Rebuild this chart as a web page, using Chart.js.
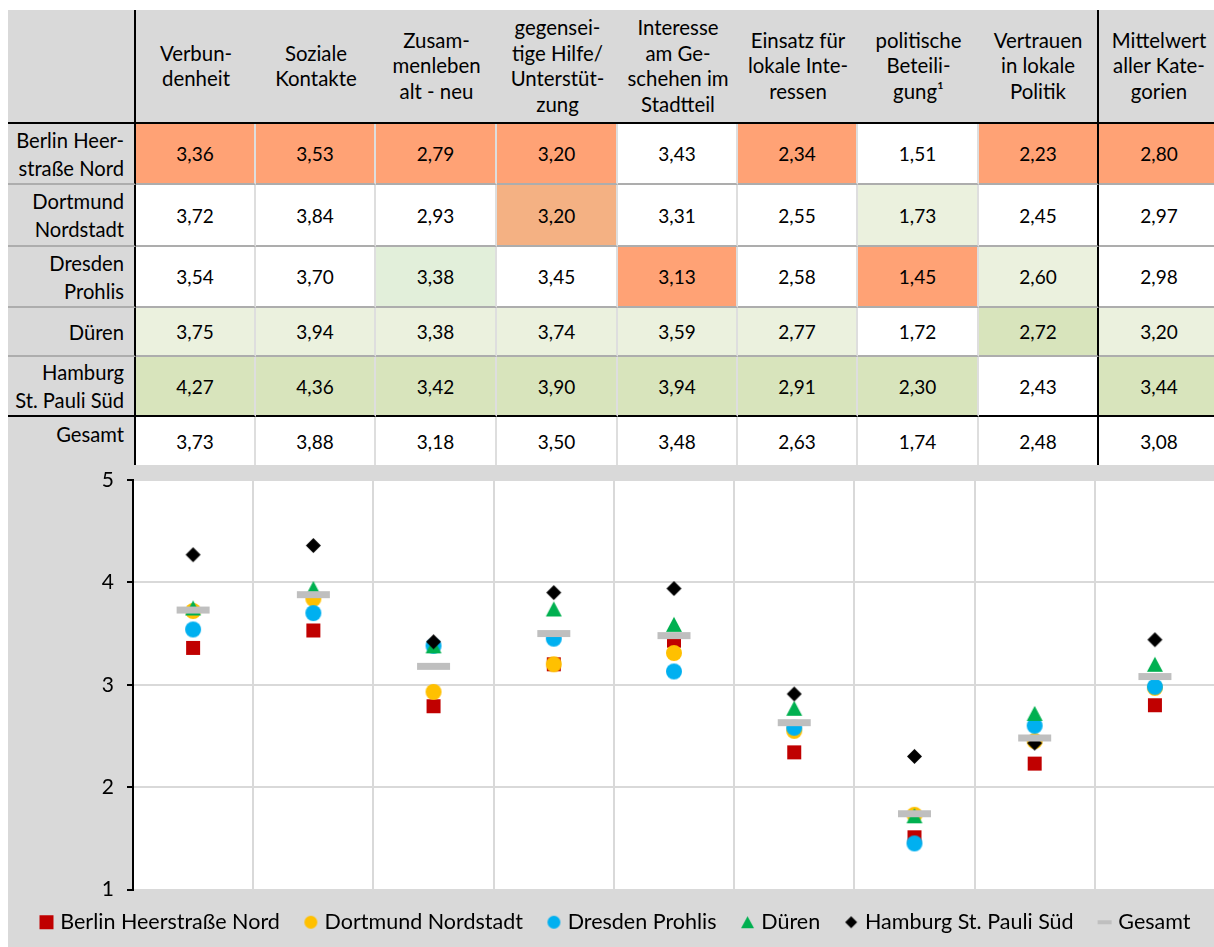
<!DOCTYPE html>
<html lang="de">
<head>
<meta charset="utf-8">
<script src="https://cdn.jsdelivr.net/npm/chart.js@4.4.0/dist/chart.umd.min.js"></script>
<style>
  html, body { margin: 0; padding: 0; background: #fff; overflow: hidden; }
  body { width: 1214px; height: 947px; position: relative; font-family: Lato, "Open Sans", sans-serif; color: #000; }
  #wrap { position: absolute; left: 8px; top: 10px; width: 1216px; height: 937px; background: #D9D9D9; overflow: hidden; }
  table { border-collapse: separate; border-spacing: 0; table-layout: fixed; width: 1211px; }
  th, td { box-sizing: border-box; padding: 0; border: 0; text-align: center; vertical-align: middle; font-weight: normal; }
  th { font-size: 20.4px; line-height: 25.5px; background: #D9D9D9; border-bottom: 2px solid #000; }
  td.lab { text-align: right; padding-right: 10px; font-size: 20.2px; line-height: 28px; background: #D9D9D9;
           border-right: 2px solid #000; border-bottom: 2px solid #ADADAD; }
  th.corner { border-right: 2px solid #000; }
  td.val { font-size: 19px; background: #fff; border-right: 2px solid #DEDEDE; border-bottom: 2px solid #ADADAD; }
  .sep { border-right: 2px solid #000 !important; }
  tr.last-region td { border-bottom: 2px solid #000 !important; }
  tr.total td { border-bottom: 0 !important; }
  tr.total td.lab { vertical-align: top; padding-top: 3px; }
  td.o { background: #FFA275; }
  td.p { background: #F4B183; }
  td.g { background: #E2EFDA; }
  td.l { background: #EBF1DE; }
  td.m { background: #D8E4BC; }
  #chart { position: absolute; left: 0; top: 455px; }
</style>
</head>
<body>
<div id="wrap">
  <table id="tab"></table>
  <canvas id="chart" width="1216" height="482"></canvas>
</div>
<script>
// Kategorien (Spaltenköpfe, mit Trennungen wie im Original)
const categories = [
  ["Verbun-", "denheit"],
  ["Soziale", "Kontakte"],
  ["Zusam-", "menleben", "alt - neu"],
  ["gegensei-", "tige Hilfe/", "Unterstüt-", "zung"],
  ["Interesse", "am Ge-", "schehen im", "Stadtteil"],
  ["Einsatz für", "lokale Inte-", "ressen"],
  ["politische", "Beteili-", "gung¹"],
  ["Vertrauen", "in lokale", "Politik"],
  ["Mittelwert", "aller Kate-", "gorien"]
];

const regions = ["Berlin Heerstraße Nord", "Dortmund Nordstadt", "Dresden Prohlis", "Düren", "Hamburg St. Pauli Süd", "Gesamt"];
const rowLabels = [
  ["Berlin Heer-", "straße Nord"],
  ["Dortmund", "Nordstadt"],
  ["Dresden", "Prohlis"],
  ["Düren"],
  ["Hamburg", "St. Pauli Süd"],
  ["Gesamt"]
];

const berlin   = [3.36, 3.53, 2.79, 3.20, 3.43, 2.34, 1.51, 2.23, 2.80];
const dortmund = [3.72, 3.84, 2.93, 3.20, 3.31, 2.55, 1.73, 2.45, 2.97];
const dresden  = [3.54, 3.70, 3.38, 3.45, 3.13, 2.58, 1.45, 2.60, 2.98];
const dueren   = [3.75, 3.94, 3.38, 3.74, 3.59, 2.77, 1.72, 2.72, 3.20];
const hamburg  = [4.27, 4.36, 3.42, 3.90, 3.94, 2.91, 2.30, 2.43, 3.44];
const gesamt   = [3.73, 3.88, 3.18, 3.50, 3.48, 2.63, 1.74, 2.48, 3.08];

const yTicks = [1, 2, 3, 4, 5];

const allSeries = [berlin, dortmund, dresden, dueren, hamburg, gesamt];

// Hervorhebungen der Tabellenzellen
const fills = [
  ["o", "o", "o", "o", "", "o", "", "o", "o"],
  ["", "", "", "p", "", "", "l", "", ""],
  ["", "", "g", "", "o", "", "o", "l", ""],
  ["l", "l", "l", "l", "l", "l", "", "m", "l"],
  ["m", "m", "m", "m", "m", "m", "m", "", "m"],
  ["", "", "", "", "", "", "", "", ""]
];

const colWidths = [128, 120, 120, 121, 121, 120, 120, 121, 120, 120];
const rowHeights = [114, 61, 62, 61, 49, 60, 48];

const fmt = v => v.toFixed(2).replace(".", ",");

// Tabelle aufbauen
const tab = document.getElementById("tab");
let html = "<colgroup>" + colWidths.map(w => `<col style="width:${w}px">`).join("") + "</colgroup>";
html += `<tr style="height:${rowHeights[0]}px"><th class="corner"></th>`;
categories.forEach((c, i) => {
  html += `<th${i === 7 ? ' class="sep"' : ""}>${c.join("<br>")}</th>`;
});
html += "</tr>";
allSeries.forEach((vals, r) => {
  const cls = r === 4 ? "last-region" : (r === 5 ? "total" : "");
  html += `<tr class="${cls}" style="height:${rowHeights[r + 1]}px"><td class="lab">${rowLabels[r].join("<br>")}</td>`;
  vals.forEach((v, i) => {
    html += `<td class="val ${fills[r][i]}${i === 7 ? " sep" : ""}">${fmt(v)}</td>`;
  });
  html += "</tr>";
});
tab.innerHTML = html;
tab.querySelectorAll("tr").forEach(tr => {
  const last = tr.children[tr.children.length - 1];
  if (last.tagName === "TD") last.style.borderRight = "0";
});

// Marker als kleine Canvas-Bilder
function marker(kind, color, w, h, dx) {
  const c = document.createElement("canvas");
  const W = Math.ceil(w + 2 * Math.abs(dx || 0)) + 2;
  const H = Math.ceil(h) + 2;
  c.width = W;
  c.height = H;
  const g = c.getContext("2d");
  const cx = W / 2 + (dx || 0);
  const cy = H / 2;
  g.fillStyle = color;
  g.beginPath();
  if (kind === "rect" || kind === "dash") {
    g.rect(cx - w / 2, cy - h / 2, w, h);
  } else if (kind === "circle") {
    g.arc(cx, cy, w / 2, 0, Math.PI * 2);
  } else if (kind === "triangle") {
    g.moveTo(cx, cy - h / 2);
    g.lineTo(cx + w / 2, cy + h / 2);
    g.lineTo(cx - w / 2, cy + h / 2);
    g.closePath();
  } else if (kind === "diamond") {
    g.moveTo(cx, cy - h / 2);
    g.lineTo(cx + w / 2, cy);
    g.lineTo(cx, cy + h / 2);
    g.lineTo(cx - w / 2, cy);
    g.closePath();
  }
  g.fill();
  return c;
}

const styles = [
  { kind: "rect", color: "#C00000", chart: [14, 14], legend: [14, 14] },
  { kind: "circle", color: "#FFC000", chart: [16, 16], legend: [13, 13] },
  { kind: "circle", color: "#00B0F0", chart: [16, 16], legend: [13, 13] },
  { kind: "triangle", color: "#00B050", chart: [16, 15], legend: [13, 12] },
  { kind: "diamond", color: "#000000", chart: [15, 15], legend: [12, 12] },
  { kind: "dash", color: "#BFBFBF", chart: [33, 7], legend: [14, 4] }
];

const datasets = allSeries.map((vals, i) => {
  const s = styles[i];
  return {
    label: regions[i],
    data: vals,
    showLine: false,
    pointStyle: marker(s.kind, s.color, s.chart[0], s.chart[1], 0),
    pointRadius: 8,
    backgroundColor: s.color,
    borderColor: s.color,
    order: allSeries.length - i
  };
});

const legendIcons = styles.map(s => marker(s.kind, s.color, s.legend[0], s.legend[1], 3));

// weisser Hintergrund nur fuer die Zeichenflaeche
const plotBg = {
  id: "plotBg",
  beforeDraw(chart) {
    const { ctx, chartArea: a } = chart;
    ctx.save();
    ctx.fillStyle = "#fff";
    ctx.fillRect(a.left, a.top, a.right - a.left, a.bottom - a.top);
    ctx.restore();
  }
};

const ctx = document.getElementById("chart").getContext("2d");
new Chart(ctx, {
  type: "line",
  data: {
    labels: categories.map(c => c.join(" ")),
    datasets: datasets
  },
  plugins: [plotBg],
  options: {
    responsive: false,
    animation: false,
    events: [],
    layout: { padding: { top: 15, right: 4, bottom: 4, left: 0 } },
    scales: {
      x: {
        type: "category",
        offset: true,
        grid: {
          offset: true,
          lineWidth: 2,
          drawTicks: false,
          color: c => (c.index === 0 ? "rgba(0,0,0,0)" : "#D9D9D9")
        },
        border: { display: false },
        ticks: { display: false }
      },
      y: {
        min: yTicks[0],
        max: yTicks[yTicks.length - 1],
        afterBuildTicks: s => { s.ticks = yTicks.map(v => ({ value: v })); },
        afterFit: s => {
          s.width = 125;
          s.paddingTop = 0;
          s.paddingBottom = 0;
        },
        grid: { color: "#D9D9D9", lineWidth: 2, tickColor: "#000", tickLength: 6, tickWidth: 2 },
        border: { color: "#000", width: 2 },
        ticks: { color: "#000", padding: 13, font: { family: "Lato", size: 21 } }
      }
    },
    plugins: {
      tooltip: { enabled: false },
      legend: {
        position: "bottom",
        labels: {
          usePointStyle: true,
          pointStyleWidth: 12,
          padding: 22,
          color: "#000",
          font: { family: "Lato", size: 21.5 },
          generateLabels: chart => chart.data.datasets.map((ds, i) => ({
            text: ds.label,
            pointStyle: legendIcons[i],
            fillStyle: ds.backgroundColor,
            strokeStyle: "rgba(0,0,0,0)",
            lineWidth: 0,
            fontColor: "#000",
            hidden: false,
            datasetIndex: i
          }))
        }
      }
    }
  }
});
</script>
</body>
</html>
